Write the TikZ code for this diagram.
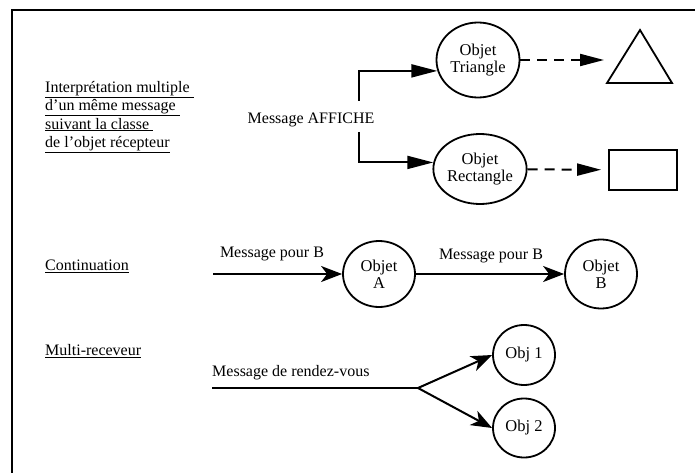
\documentclass[tikz,border=0pt]{standalone}
\usepackage{fontspec}
\setmainfont{Liberation Serif}
\usetikzlibrary{arrows.meta,positioning,shapes.geometric}

\begin{document}
\begin{tikzpicture}[x=1pt,y=-1pt,
  obj/.style={draw,ellipse,line width=1.8pt,inner sep=0pt,align=center,
    font=\fontsize{16.5}{17}\selectfont},
  lbl/.style={inner sep=0pt,font=\fontsize{16}{18.5}\selectfont},
  titre/.style={lbl,align=left,anchor=west},
  arr/.style={-{Triangle[length=26pt,width=13pt]},line width=2pt},
  darr/.style={-{Triangle[length=24pt,width=12pt]},line width=2pt,dash pattern=on 10pt off 7pt},
  sarr/.style={-{Stealth[length=21pt,width=16pt,inset=6pt]},line width=2pt}]
\useasboundingbox (0,0) rectangle (695,473);
% cadre
\draw[line width=2pt] (12,473) -- (12,10) -- (695,10);

% interpretation multiple
\node[titre] (t1) at (45,117) {\underline{Interprétation multiple\ }\\
  \underline{d'un même message\ }\\ \underline{suivant la classe\ }\\
  \underline{de l'objet récepteur}};
\node[lbl] (aff) at (311,120) {Message AFFICHE};
\node[obj,minimum width=83pt,minimum height=75pt] (trg) at (478,60) {Objet\\Triangle};
\node[obj,minimum width=80pt,minimum height=70pt] (rct) at (480,169) {Objet\\Rectangle};
\coordinate (ht) at (359,101);
\coordinate (bs) at (359,132);
\draw[arr] (ht) |- (trg.195);
\draw[arr] (bs) |- (rct.172);
\coordinate (tri) at (604,60);
\draw[line width=1.8pt,line join=miter] (607,83) -- (640,30) -- (672,83) -- cycle;
\node[draw,line width=1.8pt,minimum width=68pt,minimum height=40pt] (rect) at (643,170) {};
\draw[darr] (trg) -- (tri);
\draw[darr,shorten >=7pt] (rct) -- (rect);

% continuation
\node[titre] (t2) at (45,266) {\underline{Continuation}};
\coordinate (c0) at (213,274);
\node[obj,minimum width=72pt,minimum height=66pt] (obja) at (379,274) {Objet\\A};
\node[obj,minimum width=72pt,minimum height=69pt] (objb) at (601,274) {Objet\\B};
\draw[sarr] (c0) -- (obja);
\draw[sarr] (obja) -- (objb);
\node[lbl] (m1) at (272,254) {Message pour B};
\node[lbl] (m2) at (491,256) {Message pour B};

% multi-receveur
\node[titre] (t3) at (45,351) {\underline{Multi-receveur}};
\coordinate (m0) at (212,388);
\coordinate (mf) at (418,388);
\node[obj,minimum width=62pt,minimum height=60pt] (obj1) at (524,355) {Obj 1};
\node[obj,minimum width=62pt,minimum height=59pt] (obj2) at (524,428) {Obj 2};
\node[lbl,anchor=west] (rdv) at (212,373) {Message de rendez-vous};
\draw[line width=2pt] (m0) -- (mf);
\draw[sarr] (mf) -- (obj1.west);
\draw[sarr] (mf) -- (obj2.west);
\end{tikzpicture}
\end{document}
